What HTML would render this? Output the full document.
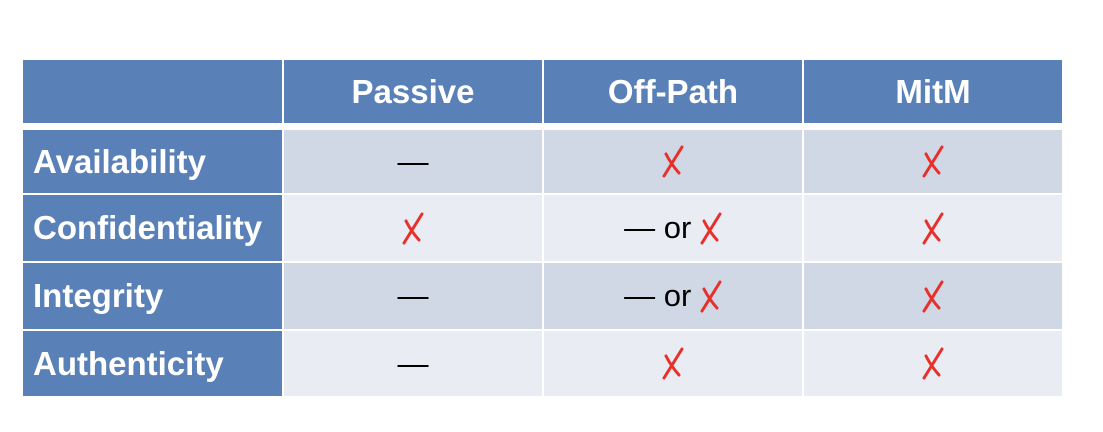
<!DOCTYPE html>
<html><head><style>
body{margin:0;width:1103px;height:432px;background:#fff;position:relative;overflow:hidden;font-family:"Liberation Sans",sans-serif;}
.c{position:absolute;display:flex;align-items:center;justify-content:center;font-size:31px;color:#000;}
.h{background:#5a80b8;color:#fff;font-weight:bold;font-size:33px;}
.l{justify-content:flex-start;padding-left:10px;box-sizing:border-box;}
.d{background:#d1d8e5;}
.w{background:#e9ecf3;}
svg{display:block}
</style></head><body>
<svg width="0" height="0" style="position:absolute"><defs><g id="x"><path d="M20 2 L2 31 M4 9 Q9 19 17 28" stroke="#e8302a" stroke-width="3" fill="none" stroke-linecap="round"/></g></defs></svg>
<div class="c h" style="left:23px;top:60px;width:259px;height:63px"></div>
<div class="c h" style="left:284px;top:60px;width:258px;height:63px">Passive</div>
<div class="c h" style="left:544px;top:60px;width:258px;height:63px">Off-Path</div>
<div class="c h" style="left:804px;top:60px;width:258px;height:63px">MitM</div>

<div class="c h l" style="left:23px;top:130px;width:259px;height:63px">Availability</div>
<div class="c d" style="left:284px;top:130px;width:258px;height:63px">—</div>
<div class="c d" style="left:544px;top:130px;width:258px;height:63px"><svg width="22" height="33"><use href="#x"/></svg></div>
<div class="c d" style="left:804px;top:130px;width:258px;height:63px"><svg width="22" height="33"><use href="#x"/></svg></div>

<div class="c h l" style="left:23px;top:195px;width:259px;height:66px">Confidentiality</div>
<div class="c w" style="left:284px;top:195px;width:258px;height:66px"><svg width="22" height="33"><use href="#x"/></svg></div>
<div class="c w" style="left:544px;top:195px;width:258px;height:66px">—&nbsp;or&nbsp;<svg width="22" height="33"><use href="#x"/></svg></div>
<div class="c w" style="left:804px;top:195px;width:258px;height:66px"><svg width="22" height="33"><use href="#x"/></svg></div>

<div class="c h l" style="left:23px;top:263px;width:259px;height:66px">Integrity</div>
<div class="c d" style="left:284px;top:263px;width:258px;height:66px">—</div>
<div class="c d" style="left:544px;top:263px;width:258px;height:66px">—&nbsp;or&nbsp;<svg width="22" height="33"><use href="#x"/></svg></div>
<div class="c d" style="left:804px;top:263px;width:258px;height:66px"><svg width="22" height="33"><use href="#x"/></svg></div>

<div class="c h l" style="left:23px;top:331px;width:259px;height:65px">Authenticity</div>
<div class="c w" style="left:284px;top:331px;width:258px;height:65px">—</div>
<div class="c w" style="left:544px;top:331px;width:258px;height:65px"><svg width="22" height="33"><use href="#x"/></svg></div>
<div class="c w" style="left:804px;top:331px;width:258px;height:65px"><svg width="22" height="33"><use href="#x"/></svg></div>
</body></html>
